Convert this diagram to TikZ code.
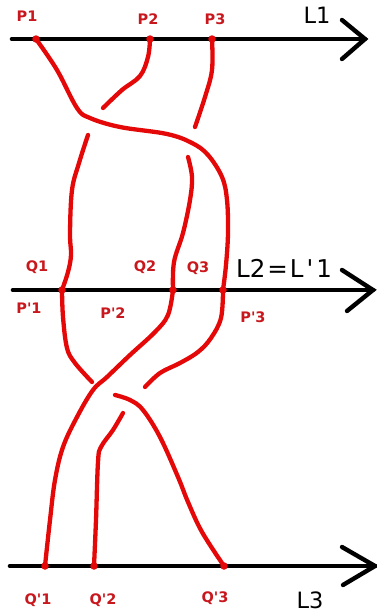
\documentclass[tikz,border=0pt]{standalone}
\usepackage{fontspec}
\setmainfont{DejaVu Sans}[Ligatures=TeXOff]
\definecolor{strandred}{RGB}{228,8,8}
\definecolor{labred}{RGB}{200,24,30}
\begin{document}
\begin{tikzpicture}[x=1pt,y=-1pt,
  axis/.style={line width=4.6pt,black,line cap=round},
  tipline/.style={line width=4.4pt,black,line cap=round,line join=miter},
  strand/.style={line width=4.3pt,draw=strandred,line cap=round,line join=round},
  ptdot/.style={circle,fill=strandred,inner sep=0pt,minimum size=7.5pt},
  lab/.style={text=labred,font=\bfseries\fontsize{14.5}{14.5}\selectfont,inner sep=0pt},
  big/.style={font=\fontsize{22.5}{22.5}\selectfont,inner sep=0pt},
  bigger/.style={font=\fontsize{24.5}{24.5}\selectfont,inner sep=0pt}]
\useasboundingbox (0,0) rectangle (376,616);
% line L1
\coordinate (L1s) at (12,39); \coordinate (L1e) at (365,39);
\coordinate (L1a) at (342,20); \coordinate (L1b) at (342,59);
\coordinate (P1) at (36,39); \coordinate (P2) at (150,39); \coordinate (P3) at (212,39);
% line L2
\coordinate (L2s) at (13,290); \coordinate (L2e) at (373,290);
\coordinate (L2a) at (342,270); \coordinate (L2b) at (347,311);
\coordinate (Q1) at (62,290); \coordinate (Q2) at (173,290); \coordinate (Q3) at (223,290);
% line L3
\coordinate (L3s) at (10,566); \coordinate (L3e) at (375,566);
\coordinate (L3a) at (342,547); \coordinate (L3b) at (343,585);
\coordinate (R1) at (45,566); \coordinate (R2) at (94,566); \coordinate (R3) at (224,566);
% break ends
\coordinate (Bt) at (103,108); \coordinate (Bb) at (88,135);
\coordinate (Ct) at (195,127); \coordinate (Cb) at (188,157);
\coordinate (Et) at (92,382); \coordinate (Eb) at (115,395);
\coordinate (Ft) at (145,387); \coordinate (Fb) at (123,413);

\draw[axis] (L1s) -- (L1e);
\draw[tipline] (L1a) -- (L1e) -- (L1b);
\draw[axis] (L2s) -- (L2e);
\draw[tipline] (L2a) -- (L2e) -- (L2b);
\draw[axis] (L3s) -- (L3e);
\draw[tipline] (L3a) -- (L3e) -- (L3b);

% upper crossings
\draw[strand] plot[smooth,tension=0.6] coordinates {(P1) (57,70) (77,108) (90,118) (120,127) (167,134) (192,143) (208,155) (222,177) (227,200) (228,233) (226,265) (Q3)};
\draw[strand] plot[smooth,tension=0.6] coordinates {(P2) (148,57) (140,76) (122,90) (Bt)};
\draw[strand] plot[smooth,tension=0.6] coordinates {(Bb) (79,163) (72,190) (70,233) (71,255) (68,272) (Q1)};
\draw[strand] plot[smooth,tension=0.6] coordinates {(P3) (212,70) (205,97) (Ct)};
\draw[strand] plot[smooth,tension=0.6] coordinates {(Cb) (192,177) (190,200) (183,233) (174,262) (Q2)};
% lower crossings
\draw[strand] plot[smooth,tension=0.6] coordinates {(Q2) (168,315) (155,332) (130,355) (107,377) (93,390) (77,417) (63,447) (55,480) (50,520) (R1)};
\draw[strand] plot[smooth,tension=0.6] coordinates {(Q1) (63,317) (67,348) (75,363) (Et)};
\draw[strand] plot[smooth,tension=0.6] coordinates {(Eb) (130,400) (143,410) (160,437) (178,477) (188,502) (202,532) (R3)};
\draw[strand] plot[smooth,tension=0.6] coordinates {(Q3) (221,318) (211,338) (198,352) (180,363) (160,373) (Ft)};
\draw[strand] plot[smooth,tension=0.6] coordinates {(Fb) (113,430) (101,447) (98,462) (96,520) (R2)};

% dots
\foreach \p in {P1,P2,P3,Q1,Q2,Q3,R1,R2,R3} \node[ptdot] (d\p) at (\p) {};

% labels
\node[lab] (tP1) at (27,16) {P1};
\node[lab] (tP2) at (148,19) {P2};
\node[lab] (tP3) at (215,19) {P3};
\node[big] (tL1) at (317,15) {L1};
\node[lab] (tQ1) at (37,267) {Q1};
\node[lab] (tQ2) at (145,267) {Q2};
\node[lab] (tQ3) at (198,268) {Q3};
\node[bigger] (tL2) at (284,268) {L2\hspace{2pt}=\hspace{2pt}L\hspace{3pt}'\hspace{3pt}1};
\node[lab] (tPp1) at (29,308) {P'1};
\node[lab] (tPp2) at (113,313) {P'2};
\node[lab] (tPp3) at (253,317) {P'3};
\node[lab] (tR1) at (38,600) {Q'1};
\node[lab] (tR2) at (103,600) {Q'2};
\node[lab] (tR3) at (215,598) {Q'3};
\node[big] (tL3) at (310,600) {L3};
\end{tikzpicture}
\end{document}
